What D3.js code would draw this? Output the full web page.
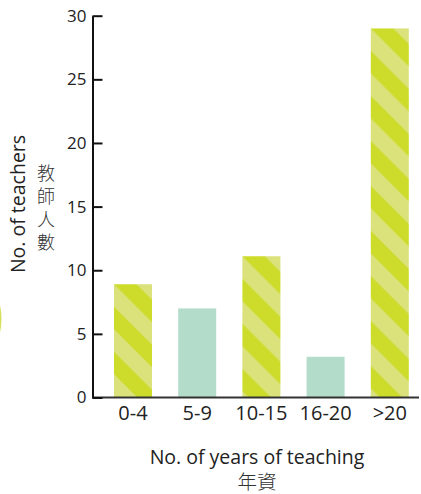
<!DOCTYPE html>
<html>
<head>
<meta charset="utf-8">
<script src="https://cdn.jsdelivr.net/npm/d3@7"></script>
<style>
    html, body { margin: 0; padding: 0; background: #fff; }
    svg { display: block; }
    .tick text { font-family: "Open Sans", sans-serif; font-size: 17px; fill: #222; }
    .x-axis .tick text { font-size: 20px; }
    .axis-title { font-family: "Open Sans", "Noto Sans CJK TC", sans-serif; font-size: 19.5px; fill: #222; }
    .zh { font-family: "Noto Sans CJK TC", sans-serif; font-size: 18px; font-weight: 300; fill: #333; }
</style>
</head>
<body>
<div id="chart"></div>
<script>
    // data
    const categories = ['0-4', '5-9', '10-15', '16-20', '>20'];
    const teachers = [8.9, 7, 11.1, 3.2, 29];
    const yTicks = [0, 5, 10, 15, 20, 25, 30];

    const width = 421;
    const height = 494;

    const svg = d3.select('#chart').append('svg')
        .attr('width', width)
        .attr('height', height);

    const defs = svg.append('defs');

    // leftover decoration at the left edge
    svg.append('circle')
        .attr('cx', -64)
        .attr('cy', 319)
        .attr('r', 65.5)
        .attr('fill', '#d6e05a');

    const x = d3.scaleBand()
        .domain(categories)
        .range([93, 429.8])
        .paddingInner(0.408)
        .paddingOuter(0.327);

    const y = d3.scaleLinear()
        .domain([0, 30])
        .range([397.5, 15.7]);

    const dark = '#cddc2b';
    const light = '#dbe27c';
    const teal = '#b4dccb';
    const P = 45; // stripe period along x

    // Bars
    categories.forEach((c, i) => {
        const bx = x(c);
        const by = y(teachers[i]);
        let fill = teal;
        if (i % 2 === 0) {
            const id = `stripe-${i}`;
            const pat = defs.append('pattern')
                .attr('id', id)
                .attr('patternUnits', 'userSpaceOnUse')
                .attr('x', bx)
                .attr('y', by)
                .attr('width', P)
                .attr('height', P);
            pat.append('rect').attr('width', P).attr('height', P).attr('fill', light);
            pat.append('polygon')
                .attr('points', `0,0 ${P / 2},0 ${P},${P / 2} ${P},${P}`)
                .attr('fill', dark);
            pat.append('polygon')
                .attr('points', `0,${P / 2} ${P / 2},${P} 0,${P}`)
                .attr('fill', dark);
            fill = `url(#${id})`;
        }
        svg.append('rect')
            .attr('x', bx)
            .attr('y', by)
            .attr('width', x.bandwidth())
            .attr('height', y(0) - by)
            .attr('fill', fill);
    });

    // X axis
    const xAxis = svg.append('g')
        .attr('class', 'x-axis')
        .attr('transform', `translate(0,${y(0)})`)
        .call(d3.axisBottom(x).tickSize(0));
    xAxis.select('.domain').remove();
    xAxis.selectAll('.tick text').attr('dy', null).attr('y', 22.5);

    svg.append('line')
        .attr('x1', 92)
        .attr('x2', 419)
        .attr('y1', y(0))
        .attr('y2', y(0))
        .attr('stroke', '#333')
        .attr('stroke-width', 2);

    // Y axis, ticks pointing inward
    const yAxis = svg.append('g')
        .attr('transform', 'translate(92.5,0)')
        .call(d3.axisRight(y).tickValues(yTicks).tickSize(10).tickSizeOuter(0));
    yAxis.select('.domain').attr('stroke', '#111').attr('stroke-width', 2);
    yAxis.selectAll('.tick line').attr('stroke', '#111').attr('stroke-width', 2);
    yAxis.selectAll('.tick text')
        .attr('x', -6)
        .attr('text-anchor', 'end');

    // Axis titles
    svg.append('text')
        .attr('class', 'axis-title')
        .attr('x', 257)
        .attr('y', 464)
        .attr('text-anchor', 'middle')
        .text('No. of years of teaching');
    svg.append('text')
        .attr('class', 'zh')
        .attr('x', 257)
        .attr('y', 489)
        .attr('text-anchor', 'middle')
        .style('font-size', '19.5px')
        .text('年資');

    svg.append('text')
        .attr('class', 'axis-title')
        .attr('transform', 'translate(25,204) rotate(-90)')
        .attr('text-anchor', 'middle')
        .text('No. of teachers');

    const yTitleZh = ['教', '師', '人', '數'];
    svg.append('g')
        .selectAll('text')
        .data(yTitleZh)
        .join('text')
        .attr('class', 'zh')
        .attr('x', 46)
        .attr('y', (d, i) => 171.5 + i * 23.3)
        .attr('text-anchor', 'middle')
        .attr('dominant-baseline', 'central')
        .text(d => d);
</script>
</body>
</html>
